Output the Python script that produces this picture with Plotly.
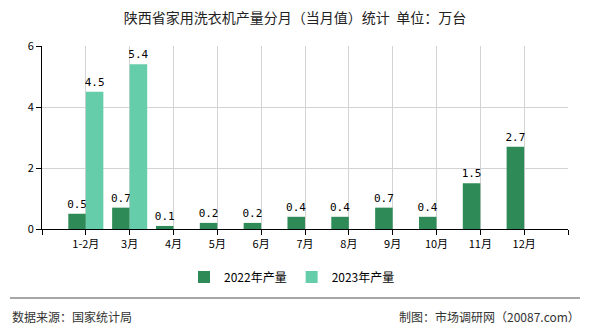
import plotly.graph_objects as go

categories = ["1-2月", "3月", "4月", "5月", "6月", "7月", "8月", "9月", "10月", "11月", "12月"]
values_2022 = [0.5, 0.7, 0.1, 0.2, 0.2, 0.4, 0.4, 0.7, 0.4, 1.5, 2.7]
values_2023 = [4.5, 5.4, None, None, None, None, None, None, None, None, None]
series_names = ["2022年产量", "2023年产量"]
y_ticks = [0, 2, 4, 6]

W, H = 590, 330
L, R, T, B = 42, 568, 46, 229

def px_x(p):
    return (p - L) / (R - L)

def px_y(p):
    return (B - p) / (B - T)

xpos = list(range(1, len(categories) + 1))
font_cjk = "Noto Sans CJK SC"
label_font = dict(family="DejaVu Sans Mono, monospace", size=11, color="#000")

fig = go.Figure()
fig.add_trace(go.Bar(
    x=xpos, y=values_2022, name=series_names[0], marker_color="#2E8B57",
    marker_line_width=0,
    offset=-0.4, width=0.4, texttemplate="%{y}",
    textposition="outside", textfont=label_font, cliponaxis=False,
    constraintext="none",
))
fig.add_trace(go.Bar(
    x=xpos, y=values_2023, name=series_names[1], marker_color="#66CDAA",
    marker_line_width=0,
    offset=0, width=0.4, texttemplate="%{y}",
    textposition="outside", textfont=label_font, cliponaxis=False,
    constraintext="none",
))

fig.update_layout(
    width=W, height=H,
    margin=dict(l=L, r=W - R, t=T, b=H - B, autoexpand=False),
    paper_bgcolor="white", plot_bgcolor="white",
    barmode="overlay",
    font=dict(family=font_cjk, size=11, color="#000"),
    title=dict(text="陕西省家用洗衣机产量分月（当月值）统计  单位：万台",
               x=0.5, xanchor="center", y=1 - 18 / H, yanchor="middle",
               font=dict(family=font_cjk, size=14, color="#222")),
    xaxis=dict(
        range=[0, len(categories) + 1],
        tickvals=[0] + xpos + [len(categories) + 1],
        ticktext=[""] + categories + [""],
        tickangle=0,
        showgrid=True, gridcolor="#d3d3d3", gridwidth=1,
        showline=True, linecolor="#000", linewidth=1,
        ticks="outside", ticklen=5, tickcolor="#000",
        tickfont=dict(family=font_cjk, size=11, color="#000"),
        zeroline=False, fixedrange=True, automargin=False,
    ),
    yaxis=dict(
        range=[0, 6], tickvals=y_ticks,
        showgrid=True, gridcolor="#d3d3d3", gridwidth=1,
        showline=True, linecolor="#000", linewidth=1,
        ticks="outside", ticklen=5, tickcolor="#000",
        tickfont=dict(family=font_cjk, size=11, color="#000"),
        zeroline=False, fixedrange=True, automargin=False,
    ),
    legend=dict(orientation="h", x=px_x(292), xanchor="center",
                y=px_y(277), yanchor="middle",
                font=dict(family=font_cjk, size=12, color="#000"),
                traceorder="normal"),
    showlegend=True,
)

fig.add_shape(type="line", xref="paper", yref="paper",
              x0=px_x(10), x1=px_x(580), y0=px_y(298), y1=px_y(298),
              line=dict(color="#888", width=1.5))
fig.add_annotation(text="数据来源：国家统计局", xref="paper", yref="paper",
                   x=px_x(10), y=px_y(316), xanchor="left", yanchor="middle",
                   showarrow=False, font=dict(family=font_cjk, size=12, color="#333"))
fig.add_annotation(text="制图：市场调研网（20087.com）", xref="paper", yref="paper",
                   x=px_x(582), y=px_y(316), xanchor="right", yanchor="middle",
                   showarrow=False, font=dict(family=font_cjk, size=12, color="#333"))

fig.write_html("out.html")
